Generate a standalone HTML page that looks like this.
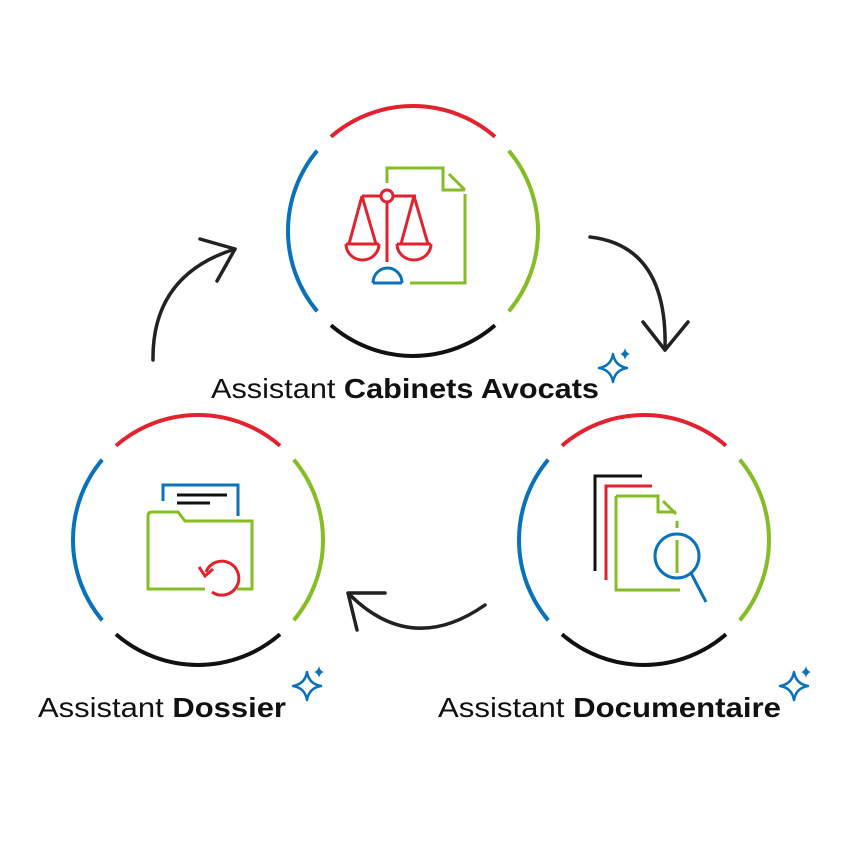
<!DOCTYPE html>
<html><head><meta charset="utf-8"><style>
html,body{margin:0;padding:0;background:#fff}
svg{display:block}
text{font-family:"Liberation Sans",sans-serif;font-size:28px;fill:#111}
</style></head><body>
<svg width="845" height="845" viewBox="0 0 845 845" xmlns="http://www.w3.org/2000/svg">
<defs>
<g id="ring" fill="none" stroke-width="4">
<path d="M-82.0,-94.3 A125,125 0 0 1 82.0,-94.3" stroke="#e3222f"/>
<path d="M95.8,-80.3 A125,125 0 0 1 95.8,80.3" stroke="#86bc25"/>
<path d="M82.0,94.3 A125,125 0 0 1 -82.0,94.3" stroke="#111"/>
<path d="M-95.8,80.3 A125,125 0 0 1 -95.8,-80.3" stroke="#0a72ba"/>
</g>
<g id="spark">
<path d="M0,-14 Q2,-2 14,0 Q2,2 0,14 Q-2,2 -14,0 Q-2,-2 0,-14Z" fill="none" stroke="#0a72ba" stroke-width="2.5" stroke-linejoin="round"/>
<path d="M12,-20 Q13,-15 17,-14 Q13,-13 12,-8 Q11,-13 7,-14 Q11,-15 12,-20Z" fill="#0a72ba"/>
</g>
</defs>
<use href="#ring" x="413" y="231"/>
<use href="#ring" x="198" y="540"/>
<use href="#ring" x="644" y="540"/>

<!-- top icon -->
<g fill="none" stroke-width="3">
<path d="M387,183 V168 H443 V190 H465 M449,174 L465,190 M465,194 V283 H410" stroke="#86bc25"/>
<g stroke="#e3222f">
<circle cx="387" cy="196" r="6"/>
<path d="M362,196 H381 M393,196 H416 M387,202 V262"/>
<path d="M362,196 L349,244 M362,196 L376,244 M346,244 H379 M346,244 A16.5,16 0 0 0 379,244"/>
<path d="M414,196 L401,244 M414,196 L428,244 M397,244 H431 M397,244 A17,16 0 0 0 431,244"/>
</g>
<path d="M373,283 H402 M373,283 A14.5,15 0 0 1 402,283" stroke="#0a72ba"/>
</g>

<!-- folder icon -->
<g fill="none" stroke-width="3">
<path d="M163,501 V485 H238 V516" stroke="#0a72ba"/>
<path d="M177,495 H227 M177,503 H210" stroke="#111"/>
<path d="M205,589 H148 V516 Q148,512 152,512 H178 L185,521 H252 V589 H237" stroke="#86bc25"/>
<path d="M206,572 A17,17 0 1 1 212,592" stroke="#e3222f"/>
<path d="M199,567 L205,576 L213,569" stroke="#e3222f"/>
</g>

<!-- doc icon -->
<g fill="none" stroke-width="3">
<path d="M595,571 V476 H642" stroke="#111"/>
<path d="M606,580 V486 H652" stroke="#e3222f"/>
<path d="M616,496 V590 H680 M616,496 H658 V512 H676 M663,501 L676,514 M677,521 V528 M677,540 V573" stroke="#86bc25"/>
<circle cx="677" cy="556" r="22" stroke="#0a72ba"/>
<path d="M691,573 L706,602" stroke="#0a72ba"/>
</g>

<!-- arrows -->
<g fill="none" stroke="#222" stroke-width="3.5" stroke-linecap="round" stroke-linejoin="round">
<path d="M153,360 Q152,275 235,249"/>
<path d="M200,239 L235,249 L217,281"/>
<path d="M590,237 Q668,246 665,350"/>
<path d="M643,322 L665,350 L688,322"/>
<path d="M485,605 Q412,656 350,595"/>
<path d="M385,593 L348,593 L357,630"/>
</g>

<text x="211" y="398" textLength="388" lengthAdjust="spacingAndGlyphs">Assistant <tspan font-weight="bold">Cabinets Avocats</tspan></text>
<text x="38" y="717" textLength="248" lengthAdjust="spacingAndGlyphs">Assistant <tspan font-weight="bold">Dossier</tspan></text>
<text x="438" y="717" textLength="343" lengthAdjust="spacingAndGlyphs">Assistant <tspan font-weight="bold">Documentaire</tspan></text>

<use href="#spark" x="613" y="368"/>
<use href="#spark" x="307" y="686"/>
<use href="#spark" x="794" y="686"/>
</svg>
</body></html>
